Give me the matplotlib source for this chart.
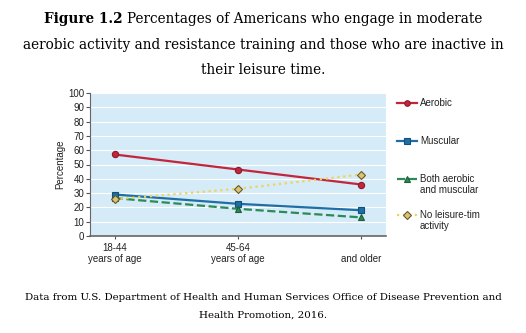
import matplotlib
matplotlib.use("Agg")
import matplotlib.pyplot as plt
from matplotlib.lines import Line2D

ages = ["18-44\nyears of age", "45-64\nyears of age", "\nand older"]
aerobic = [57, 46.5, 36]
muscular = [29, 22.5, 18]
both = [26.5, 19, 13]
no_leisure = [25.7, 33, 43]
legend_labels = ["Aerobic", "Muscular", "Both aerobic\nand muscular", "No leisure-tim\nactivity"]

SANS = "Liberation Sans"
SERIF = "DejaVu Serif"
W, H = 526, 333

fig = plt.figure(figsize=(5.26, 3.33), dpi=100)
fig.patch.set_facecolor("white")
ax = fig.add_axes([90 / W, 1 - 236 / H, 296 / W, 143 / H])
ax.set_facecolor("#d5ebf7")

x = [0, 1, 2]
styles = [
    (aerobic, "#c3253c", "-", "o", "#c3253c", "#8b1a2b"),
    (muscular, "#1e6fa6", "-", "s", "#1e6fa6", "#144f78"),
    (both, "#2b8a55", "--", "^", "#2b8a55", "#1e5e3a"),
    (no_leisure, "#eed35a", ":", "D", "#d9c47c", "#6b5a20"),
]
for vals, c, ls, m, fc, ec in styles:
    ax.plot(x, vals, color=c, ls=ls, lw=1.6, marker=m, ms=4.5, mfc=fc, mec=ec, mew=0.8, zorder=3)

ax.set_xlim(-0.2, 2.2)
ax.set_ylim(0, 100)
ax.set_yticks(range(0, 101, 10))
ax.yaxis.grid(True, color="white", lw=0.8)
ax.set_axisbelow(True)
ax.set_xticks(x)
ax.set_xticklabels(ages, fontsize=7, family=SANS, color="#222222", linespacing=1.1)
ax.tick_params(axis="y", labelsize=7, length=3, color="#555555", pad=1)
ax.tick_params(axis="x", length=2, color="#555555", pad=3)
for t in ax.get_yticklabels():
    t.set_family(SANS)
    t.set_color("#222222")
ax.set_ylabel("Percentage", fontsize=7, family=SANS, color="#222222", labelpad=2)
for s in ["top", "right"]:
    ax.spines[s].set_visible(False)
ax.spines["left"].set_color("#666666")
ax.spines["bottom"].set_color("#666666")
ax.spines["bottom"].set_linewidth(1.2)

# legend drawn by hand so markers sit on the first text line
rows_y = [103, 141, 179, 215]
for (vals, c, ls, m, fc, ec), lab, yy in zip(styles, legend_labels, rows_y):
    fy = 1 - yy / H
    fig.add_artist(Line2D([397 / W, 417 / W], [fy, fy], color=c, ls=ls, lw=1.6,
                          transform=fig.transFigure))
    fig.add_artist(Line2D([407 / W], [fy], color=c, marker=m, ms=4, mfc=fc, mec=ec, mew=0.8,
                          ls="none", transform=fig.transFigure))
    fig.text(420 / W, fy, lab, fontsize=7, family=SANS, color="#222222", va="top",
             ha="left", linespacing=1.15).set_y(fy + 5 / H)

# title with bold lead-in
r = fig.canvas.get_renderer()
fs = 9.8
y1 = 1 - 19 / H
t_bold = fig.text(0, y1, "Figure 1.2 ", fontsize=fs, family=SERIF, weight="bold", va="center")
t_rest = fig.text(0, y1, "Percentages of Americans who engage in moderate", fontsize=fs,
                  family=SERIF, va="center")
wb = t_bold.get_window_extent(r).width
wr = t_rest.get_window_extent(r).width
x0 = (W - wb - wr) / 2
t_bold.set_x(x0 / W)
t_rest.set_x((x0 + wb) / W)
fig.text(0.5, 1 - 45 / H, "aerobic activity and resistance training and those who are inactive in",
         fontsize=fs, family=SERIF, ha="center", va="center")
fig.text(0.5, 1 - 70 / H, "their leisure time.", fontsize=fs, family=SERIF, ha="center", va="center")

fig.text(0.5, 1 - 297 / H, "Data from U.S. Department of Health and Human Services Office of Disease Prevention and",
         fontsize=7.4, family=SERIF, ha="center", va="center")
fig.text(0.5, 1 - 315 / H, "Health Promotion, 2016.", fontsize=7.4, family=SERIF, ha="center", va="center")

fig.savefig("out.png", dpi=100)
